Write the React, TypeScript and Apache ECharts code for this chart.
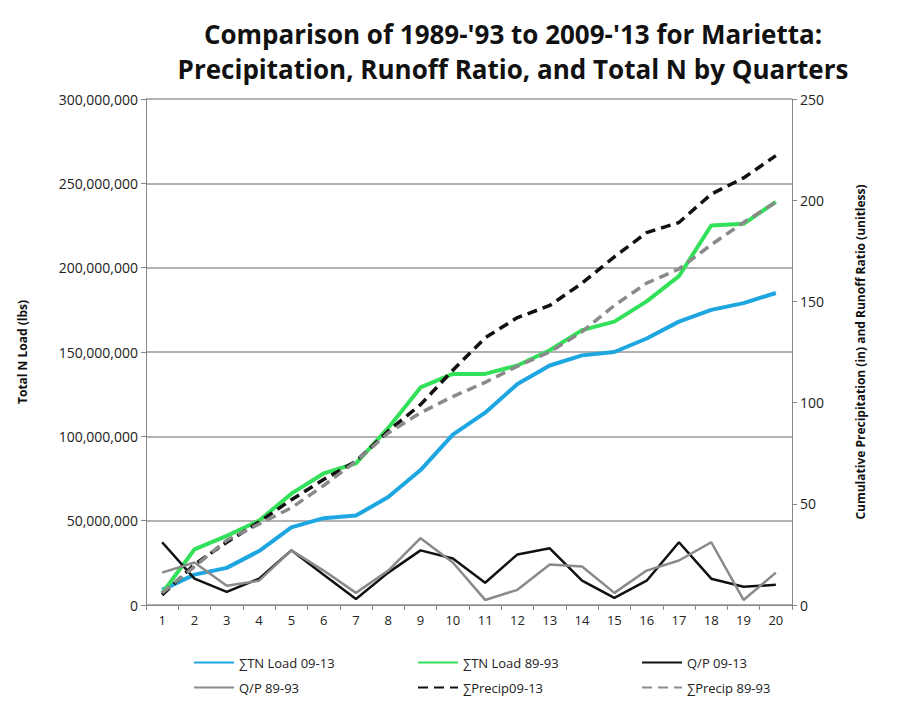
import { useRef, useEffect } from 'react';
import * as echarts from 'echarts';

const quarters = ['1', '2', '3', '4', '5', '6', '7', '8', '9', '10', '11', '12', '13', '14', '15', '16', '17', '18', '19', '20'];
const tnLoad0913 = [9e6, 18e6, 22e6, 32e6, 46e6, 51.5e6, 53e6, 64e6, 80e6, 101e6, 114e6, 131e6, 142e6, 148e6, 150e6, 158e6, 168e6, 175e6, 179e6, 185e6];
const tnLoad8993 = [7e6, 33e6, 41e6, 50e6, 66e6, 78e6, 84e6, 105e6, 129e6, 137e6, 137e6, 142e6, 151e6, 163e6, 168e6, 180e6, 195e6, 225e6, 226e6, 239e6];
const qp0913 = [31, 13, 6.5, 13, 27, 15, 3, 16, 27, 23, 11, 25, 28, 12, 3.5, 12, 31, 13, 9, 10];
const qp8993 = [16, 21, 9.5, 12, 27, 17, 6, 17, 33, 21, 2.5, 7.5, 20, 19, 6, 17, 22, 31, 2.5, 16];
const precip0913 = [5, 20, 31, 41, 52, 62, 71, 86, 99, 116, 132, 142, 148, 159, 172, 184, 189, 203, 211, 222];
const precip8993 = [6, 19, 32, 40, 48, 59, 71, 85, 95, 103, 110, 118, 125, 135, 148, 159, 166, 178, 189, 199];
const legendNames = ['∑TN Load 09-13', '∑TN Load 89-93', 'Q/P 09-13', 'Q/P 89-93', '∑Precip09-13', '∑Precip 89-93'];

const font = "'Open Sans', 'Liberation Sans', sans-serif";

function line(name: string, data: number[], color: string, width: number, yAxisIndex: number, dashed = false) {
  return {
    name, type: 'line', data, yAxisIndex, symbol: 'none',
    lineStyle: { color, width, type: dashed ? [10, 6] : 'solid' },
    itemStyle: { color },
  };
}

export default function App() {
  const ref = useRef<HTMLDivElement>(null);

  useEffect(() => {
    if (!ref.current) return;
    const chart = echarts.init(ref.current, undefined, { renderer: 'svg' });
    const legends = legendNames.map((n, i) => ({
      top: i < 3 ? 643 : 668, left: 180 + (i % 3) * 224,
      itemWidth: 40, itemHeight: 4, itemStyle: { opacity: 0 },
      textStyle: { fontSize: 13, color: '#222' },
      data: [n],
    }));
    chart.setOption({
      animation: false,
      textStyle: { fontFamily: font },
      title: {
        text: "Comparison of 1989-'93 to 2009-'13 for Marietta:\nPrecipitation, Runoff Ratio, and Total N by Quarters",
        left: 500, top: 3, textAlign: 'center',
        textStyle: { fontSize: 26, fontWeight: 'bold', color: '#111', lineHeight: 35, fontFamily: font },
      },
      grid: { left: 134, right: 106, top: 91, bottom: 91 },
      legend: legends,
      xAxis: {
        type: 'category', data: quarters, boundaryGap: true,
        axisLine: { lineStyle: { color: '#888' } },
        axisTick: { show: true, lineStyle: { color: '#888' } },
        axisLabel: { color: '#222', fontSize: 13 },
      },
      yAxis: [
        {
          type: 'value', min: 0, max: 300000000, interval: 50000000,
          name: 'Total N Load (lbs)', nameLocation: 'middle', nameGap: 118, nameRotate: 90,
          nameTextStyle: { fontWeight: 'bold', fontSize: 12, color: '#111' },
          axisLine: { show: true, lineStyle: { color: '#888' } },
          axisTick: { show: true, lineStyle: { color: '#888' } },
          axisLabel: { color: '#222', fontSize: 14, formatter: (v: number) => v.toLocaleString('en-US') },
          splitLine: { lineStyle: { color: '#999', width: 1.5 } },
        },
        {
          type: 'value', min: 0, max: 250, interval: 50,
          name: 'Cumulative Precipitation (in) and Runoff Ratio (unitless)', nameLocation: 'middle', nameGap: 62, nameRotate: 90,
          nameTextStyle: { fontWeight: 'bold', fontSize: 12, color: '#111' },
          axisLine: { show: true, lineStyle: { color: '#888' } },
          axisTick: { show: true, lineStyle: { color: '#888' } },
          axisLabel: { color: '#222', fontSize: 14 },
          splitLine: { show: false },
        },
      ],
      series: [
        line('∑TN Load 09-13', tnLoad0913, '#1ea6e0', 4, 0),
        line('∑TN Load 89-93', tnLoad8993, '#33e05a', 4, 0),
        line('Q/P 09-13', qp0913, '#111111', 2.5, 1),
        line('Q/P 89-93', qp8993, '#8a8a8a', 2.5, 1),
        line('∑Precip09-13', precip0913, '#111111', 3.5, 1, true),
        line('∑Precip 89-93', precip8993, '#8a8a8a', 3.5, 1, true),
      ],
    });
    return () => chart.dispose();
  }, []);

  return <div ref={ref} style={{ width: 890, height: 688 }} />;
}
